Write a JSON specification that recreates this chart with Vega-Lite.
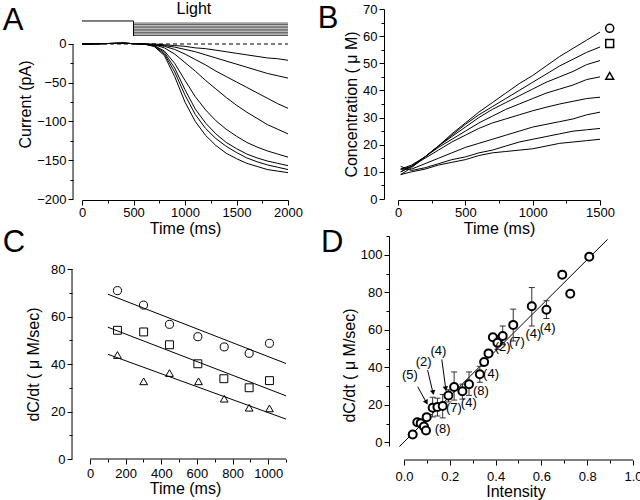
{
  "$schema": "https://vega.github.io/schema/vega-lite/v6.json",
  "padding": {"left": 2, "top": 0, "right": 0, "bottom": 2},
  "background": "white",
  "config": {
    "font": "Liberation Sans",
    "view": {"stroke": null},
    "axis": {"labelFontSize": 13, "titleFontSize": 16, "titleFontWeight": "normal", "labelColor": "black", "titleColor": "black", "domainColor": "black", "tickColor": "black", "grid": false, "labelFlush": false, "labelOverlap": false, "tickSize": 5, "labelPadding": 2, "titlePadding": 4, "labelFont": "Liberation Sans", "titleFont": "Liberation Sans"},
    "text": {"font": "Liberation Sans", "color": "black"}
  },
  "datasets": {
    "a_traces": [
      {"trace":"T1","x":0,"y":0},{"trace":"T1","x":200,"y":0.5},{"trace":"T1","x":400,"y":1},{"trace":"T1","x":500,"y":0.5},{"trace":"T1","x":600,"y":0},{"trace":"T1","x":700,"y":0},{"trace":"T1","x":800,"y":-1},{"trace":"T1","x":900,"y":-2},{"trace":"T1","x":1000,"y":-3},{"trace":"T1","x":1100,"y":-5},{"trace":"T1","x":1200,"y":-6},{"trace":"T1","x":1300,"y":-8},{"trace":"T1","x":1400,"y":-10},{"trace":"T1","x":1500,"y":-12},{"trace":"T1","x":1600,"y":-14},{"trace":"T1","x":1700,"y":-16},{"trace":"T1","x":1800,"y":-18},{"trace":"T1","x":1900,"y":-19},{"trace":"T1","x":2000,"y":-21},
      {"trace":"T2","x":0,"y":0},{"trace":"T2","x":200,"y":0.5},{"trace":"T2","x":400,"y":1},{"trace":"T2","x":500,"y":0.5},{"trace":"T2","x":600,"y":0},{"trace":"T2","x":700,"y":-1},{"trace":"T2","x":800,"y":-2},{"trace":"T2","x":900,"y":-4},{"trace":"T2","x":1000,"y":-7},{"trace":"T2","x":1100,"y":-10},{"trace":"T2","x":1200,"y":-14},{"trace":"T2","x":1300,"y":-18},{"trace":"T2","x":1400,"y":-22},{"trace":"T2","x":1500,"y":-26},{"trace":"T2","x":1600,"y":-30},{"trace":"T2","x":1700,"y":-34},{"trace":"T2","x":1800,"y":-38},{"trace":"T2","x":1900,"y":-41},{"trace":"T2","x":2000,"y":-44},
      {"trace":"T3","x":0,"y":0},{"trace":"T3","x":200,"y":0.5},{"trace":"T3","x":400,"y":1},{"trace":"T3","x":500,"y":0.5},{"trace":"T3","x":600,"y":0},{"trace":"T3","x":700,"y":-1},{"trace":"T3","x":800,"y":-3},{"trace":"T3","x":900,"y":-7},{"trace":"T3","x":1000,"y":-13},{"trace":"T3","x":1100,"y":-20},{"trace":"T3","x":1200,"y":-27},{"trace":"T3","x":1300,"y":-35},{"trace":"T3","x":1400,"y":-42},{"trace":"T3","x":1500,"y":-49},{"trace":"T3","x":1600,"y":-56},{"trace":"T3","x":1700,"y":-63},{"trace":"T3","x":1800,"y":-70},{"trace":"T3","x":1900,"y":-77},{"trace":"T3","x":2000,"y":-83},
      {"trace":"T4","x":0,"y":0},{"trace":"T4","x":200,"y":0.5},{"trace":"T4","x":400,"y":1},{"trace":"T4","x":500,"y":0.5},{"trace":"T4","x":600,"y":0},{"trace":"T4","x":700,"y":-1},{"trace":"T4","x":800,"y":-5},{"trace":"T4","x":900,"y":-13},{"trace":"T4","x":1000,"y":-24},{"trace":"T4","x":1100,"y":-35},{"trace":"T4","x":1200,"y":-47},{"trace":"T4","x":1300,"y":-58},{"trace":"T4","x":1400,"y":-69},{"trace":"T4","x":1500,"y":-79},{"trace":"T4","x":1600,"y":-88},{"trace":"T4","x":1700,"y":-96},{"trace":"T4","x":1800,"y":-104},{"trace":"T4","x":1900,"y":-110},{"trace":"T4","x":2000,"y":-116},
      {"trace":"T5","x":0,"y":0},{"trace":"T5","x":200,"y":0.5},{"trace":"T5","x":400,"y":1},{"trace":"T5","x":500,"y":0.5},{"trace":"T5","x":600,"y":0},{"trace":"T5","x":700,"y":-2},{"trace":"T5","x":800,"y":-9},{"trace":"T5","x":900,"y":-25},{"trace":"T5","x":1000,"y":-47},{"trace":"T5","x":1100,"y":-68},{"trace":"T5","x":1200,"y":-85},{"trace":"T5","x":1300,"y":-99},{"trace":"T5","x":1400,"y":-110},{"trace":"T5","x":1500,"y":-119},{"trace":"T5","x":1600,"y":-127},{"trace":"T5","x":1700,"y":-133},{"trace":"T5","x":1800,"y":-138},{"trace":"T5","x":1900,"y":-142},{"trace":"T5","x":2000,"y":-146},
      {"trace":"T6","x":0,"y":0},{"trace":"T6","x":200,"y":0.5},{"trace":"T6","x":400,"y":1},{"trace":"T6","x":500,"y":0.5},{"trace":"T6","x":600,"y":0},{"trace":"T6","x":700,"y":-2},{"trace":"T6","x":800,"y":-11},{"trace":"T6","x":900,"y":-31},{"trace":"T6","x":1000,"y":-59},{"trace":"T6","x":1100,"y":-84},{"trace":"T6","x":1200,"y":-102},{"trace":"T6","x":1300,"y":-116},{"trace":"T6","x":1400,"y":-127},{"trace":"T6","x":1500,"y":-135},{"trace":"T6","x":1600,"y":-142},{"trace":"T6","x":1700,"y":-147},{"trace":"T6","x":1800,"y":-151},{"trace":"T6","x":1900,"y":-154},{"trace":"T6","x":2000,"y":-157},
      {"trace":"T7","x":0,"y":0},{"trace":"T7","x":200,"y":0.5},{"trace":"T7","x":400,"y":1},{"trace":"T7","x":500,"y":0.5},{"trace":"T7","x":600,"y":0},{"trace":"T7","x":700,"y":-3},{"trace":"T7","x":800,"y":-13},{"trace":"T7","x":900,"y":-36},{"trace":"T7","x":1000,"y":-66},{"trace":"T7","x":1100,"y":-91},{"trace":"T7","x":1200,"y":-109},{"trace":"T7","x":1300,"y":-122},{"trace":"T7","x":1400,"y":-132},{"trace":"T7","x":1500,"y":-140},{"trace":"T7","x":1600,"y":-147},{"trace":"T7","x":1700,"y":-152},{"trace":"T7","x":1800,"y":-156},{"trace":"T7","x":1900,"y":-159},{"trace":"T7","x":2000,"y":-162},
      {"trace":"T8","x":0,"y":0},{"trace":"T8","x":200,"y":0.5},{"trace":"T8","x":400,"y":1},{"trace":"T8","x":500,"y":0.5},{"trace":"T8","x":600,"y":0},{"trace":"T8","x":700,"y":-3},{"trace":"T8","x":800,"y":-15},{"trace":"T8","x":900,"y":-42},{"trace":"T8","x":1000,"y":-75},{"trace":"T8","x":1100,"y":-100},{"trace":"T8","x":1200,"y":-118},{"trace":"T8","x":1300,"y":-131},{"trace":"T8","x":1400,"y":-141},{"trace":"T8","x":1500,"y":-148},{"trace":"T8","x":1600,"y":-154},{"trace":"T8","x":1700,"y":-158},{"trace":"T8","x":1800,"y":-162},{"trace":"T8","x":1900,"y":-164},{"trace":"T8","x":2000,"y":-166}
    ],
    "a_band": [
      {"x":500,"x2":2000,"y":27},{"x":500,"x2":2000,"y":25},{"x":500,"x2":2000,"y":23},{"x":500,"x2":2000,"y":21},{"x":500,"x2":2000,"y":19},{"x":500,"x2":2000,"y":17},{"x":500,"x2":2000,"y":15},{"x":500,"x2":2000,"y":13},{"x":500,"x2":2000,"y":11}
    ],
    "a_seg": [
      {"x":0,"x2":500,"y":29.7,"y2":29.7},
      {"x":500,"x2":500,"y":29.7,"y2":10.3},
      {"x":-87,"x2":-87,"y":-200,"y2":0}
    ],
    "a_zero": [{"x":0,"x2":2000,"y":0}],
    "b_traces": [
      {"trace":"C1","x":20,"y":9},{"trace":"C1","x":100,"y":11.5},{"trace":"C1","x":200,"y":15.5},{"trace":"C1","x":300,"y":19.5},{"trace":"C1","x":400,"y":24},{"trace":"C1","x":500,"y":28},{"trace":"C1","x":600,"y":32},{"trace":"C1","x":700,"y":35.5},{"trace":"C1","x":800,"y":39},{"trace":"C1","x":900,"y":42.5},{"trace":"C1","x":1000,"y":45.5},{"trace":"C1","x":1100,"y":49},{"trace":"C1","x":1200,"y":52.5},{"trace":"C1","x":1300,"y":55.5},{"trace":"C1","x":1400,"y":58.5},{"trace":"C1","x":1500,"y":61.5},
      {"trace":"C2","x":20,"y":10},{"trace":"C2","x":100,"y":12},{"trace":"C2","x":200,"y":15.5},{"trace":"C2","x":300,"y":19.5},{"trace":"C2","x":400,"y":23.5},{"trace":"C2","x":500,"y":27.5},{"trace":"C2","x":600,"y":31},{"trace":"C2","x":700,"y":34},{"trace":"C2","x":800,"y":37},{"trace":"C2","x":900,"y":40},{"trace":"C2","x":1000,"y":43},{"trace":"C2","x":1100,"y":46},{"trace":"C2","x":1200,"y":49},{"trace":"C2","x":1300,"y":51.5},{"trace":"C2","x":1400,"y":54},{"trace":"C2","x":1500,"y":56},
      {"trace":"C3","x":20,"y":11},{"trace":"C3","x":100,"y":12},{"trace":"C3","x":200,"y":15.5},{"trace":"C3","x":300,"y":19.5},{"trace":"C3","x":400,"y":23},{"trace":"C3","x":500,"y":26.5},{"trace":"C3","x":600,"y":30},{"trace":"C3","x":700,"y":33},{"trace":"C3","x":800,"y":35.5},{"trace":"C3","x":900,"y":38},{"trace":"C3","x":1000,"y":40.5},{"trace":"C3","x":1100,"y":43},{"trace":"C3","x":1200,"y":45},{"trace":"C3","x":1300,"y":47},{"trace":"C3","x":1400,"y":49.5},{"trace":"C3","x":1500,"y":51},
      {"trace":"C4","x":20,"y":11},{"trace":"C4","x":100,"y":12.5},{"trace":"C4","x":200,"y":15.5},{"trace":"C4","x":300,"y":19},{"trace":"C4","x":400,"y":22},{"trace":"C4","x":500,"y":25},{"trace":"C4","x":600,"y":28},{"trace":"C4","x":700,"y":30.5},{"trace":"C4","x":800,"y":33},{"trace":"C4","x":900,"y":35},{"trace":"C4","x":1000,"y":37},{"trace":"C4","x":1100,"y":39},{"trace":"C4","x":1200,"y":40.5},{"trace":"C4","x":1300,"y":42},{"trace":"C4","x":1400,"y":44},{"trace":"C4","x":1500,"y":45},
      {"trace":"C5","x":20,"y":10},{"trace":"C5","x":100,"y":12},{"trace":"C5","x":200,"y":15},{"trace":"C5","x":300,"y":18},{"trace":"C5","x":400,"y":21},{"trace":"C5","x":500,"y":23.5},{"trace":"C5","x":600,"y":26},{"trace":"C5","x":700,"y":28},{"trace":"C5","x":800,"y":29.5},{"trace":"C5","x":900,"y":31},{"trace":"C5","x":1000,"y":32.5},{"trace":"C5","x":1100,"y":33.8},{"trace":"C5","x":1200,"y":35},{"trace":"C5","x":1300,"y":36},{"trace":"C5","x":1400,"y":37},{"trace":"C5","x":1500,"y":37.5},
      {"trace":"C6","x":20,"y":11},{"trace":"C6","x":100,"y":11},{"trace":"C6","x":200,"y":13},{"trace":"C6","x":300,"y":15},{"trace":"C6","x":400,"y":17},{"trace":"C6","x":500,"y":19},{"trace":"C6","x":600,"y":20.5},{"trace":"C6","x":700,"y":22},{"trace":"C6","x":800,"y":23.5},{"trace":"C6","x":900,"y":25},{"trace":"C6","x":1000,"y":26.5},{"trace":"C6","x":1100,"y":27.5},{"trace":"C6","x":1200,"y":28.5},{"trace":"C6","x":1300,"y":29.5},{"trace":"C6","x":1400,"y":31},{"trace":"C6","x":1500,"y":32},
      {"trace":"C7","x":20,"y":12},{"trace":"C7","x":100,"y":10.5},{"trace":"C7","x":200,"y":11.5},{"trace":"C7","x":300,"y":13},{"trace":"C7","x":400,"y":14.5},{"trace":"C7","x":500,"y":15.5},{"trace":"C7","x":600,"y":17},{"trace":"C7","x":700,"y":18},{"trace":"C7","x":800,"y":19.5},{"trace":"C7","x":900,"y":21},{"trace":"C7","x":1000,"y":22},{"trace":"C7","x":1100,"y":23},{"trace":"C7","x":1200,"y":24},{"trace":"C7","x":1300,"y":25},{"trace":"C7","x":1400,"y":25.5},{"trace":"C7","x":1500,"y":26},
      {"trace":"C8","x":20,"y":9},{"trace":"C8","x":100,"y":10},{"trace":"C8","x":200,"y":11},{"trace":"C8","x":300,"y":12.5},{"trace":"C8","x":400,"y":13.5},{"trace":"C8","x":500,"y":14.5},{"trace":"C8","x":600,"y":16},{"trace":"C8","x":700,"y":17},{"trace":"C8","x":800,"y":17.5},{"trace":"C8","x":900,"y":18},{"trace":"C8","x":1000,"y":18.5},{"trace":"C8","x":1100,"y":19.5},{"trace":"C8","x":1200,"y":20.5},{"trace":"C8","x":1300,"y":21},{"trace":"C8","x":1400,"y":21.5},{"trace":"C8","x":1500,"y":22}
    ],
    "b_marks": [
      {"x":1572,"y":62.9,"series":"high"},{"x":1572,"y":57.3,"series":"mid"},{"x":1572,"y":45.4,"series":"low"}
    ],
    "c_pts": [
      {"x":154,"y":70.9,"series":"high"},{"x":300,"y":64.8,"series":"high"},{"x":446,"y":56.7,"series":"high"},{"x":605,"y":51.5,"series":"high"},{"x":753,"y":47.2,"series":"high"},{"x":893,"y":44.5,"series":"high"},{"x":1007,"y":48.7,"series":"high"},
      {"x":154,"y":54.2,"series":"mid"},{"x":301,"y":53.5,"series":"mid"},{"x":446,"y":48.1,"series":"mid"},{"x":605,"y":40.1,"series":"mid"},{"x":751,"y":33.8,"series":"mid"},{"x":893,"y":30,"series":"mid"},{"x":1007,"y":33,"series":"mid"},
      {"x":154,"y":43.8,"series":"low"},{"x":301,"y":32.7,"series":"low"},{"x":446,"y":36.2,"series":"low"},{"x":609,"y":32.7,"series":"low"},{"x":753,"y":25.4,"series":"low"},{"x":893,"y":21.6,"series":"low"},{"x":1007,"y":21.3,"series":"low"}
    ],
    "c_fit": [
      {"x":100,"y":69.4,"x2":1100,"y2":40.2},
      {"x":100,"y":55.5,"x2":1100,"y2":26.6},
      {"x":100,"y":44.1,"x2":1100,"y2":16.8},
      {"x":-101,"y":0,"x2":-101,"y2":80},
      {"x":0,"y":0,"x2":1100,"y2":0}
    ],
    "d_pts": [
      {"x":0.038,"y":4.1},{"x":0.058,"y":10.7},{"x":0.073,"y":10.2},{"x":0.087,"y":8.4},{"x":0.096,"y":6.3},{"x":0.099,"y":13.4},{"x":0.125,"y":18.4},{"x":0.146,"y":18.8},{"x":0.169,"y":19.3},{"x":0.194,"y":24.9},{"x":0.219,"y":29.5},{"x":0.255,"y":27.2},{"x":0.284,"y":30.9},{"x":0.331,"y":36.3},{"x":0.35,"y":42.8},{"x":0.369,"y":47.4},{"x":0.388,"y":56},{"x":0.408,"y":53.1},{"x":0.431,"y":56.7},{"x":0.477,"y":62.6},{"x":0.558,"y":72.5},{"x":0.622,"y":70.7},{"x":0.691,"y":89.4},{"x":0.726,"y":79.2},{"x":0.809,"y":98.9}
    ],
    "d_err": [
      {"x":0.125,"y":13.5,"y2":24},{"x":0.146,"y":14,"y2":23.5},{"x":0.169,"y":13,"y2":25.5},{"x":0.194,"y":21.5,"y2":28},{"x":0.219,"y":22.5,"y2":37.5},{"x":0.255,"y":23,"y2":31},{"x":0.284,"y":25,"y2":37.5},{"x":0.331,"y":32,"y2":40.5},{"x":0.408,"y":49.5,"y2":57},{"x":0.431,"y":52,"y2":62},{"x":0.477,"y":54,"y2":71},{"x":0.558,"y":62,"y2":82.5},{"x":0.622,"y":66,"y2":75.5}
    ],
    "d_fit": [
      {"x":-0.02,"y":-2.3,"x2":0.889,"y2":108.2},
      {"x":0,"y":-9.47,"x2":1,"y2":-9.47}
    ],
    "d_arrows": [
      {"x":0.06,"y":29.6,"x2":0.1,"y2":20.7},
      {"x":0.103,"y":38.5,"x2":0.128,"y2":25.7},
      {"x":0.165,"y":44.2,"x2":0.183,"y2":27.8}
    ],
    "d_heads": [
      {"x":0.098,"y":21.3,"angle":151},
      {"x":0.127,"y":26.5,"angle":167},
      {"x":0.182,"y":28.6,"angle":172}
    ],
    "d_labels": [
      {"x":0.026,"y":35.8,"label":"(5)"},{"x":0.086,"y":42.9,"label":"(2)"},{"x":0.15,"y":48.8,"label":"(4)"},{"x":0.169,"y":7.3,"label":"(8)"},{"x":0.218,"y":18.5,"label":"(7)"},{"x":0.283,"y":21,"label":"(4)"},{"x":0.336,"y":27.4,"label":"(8)"},{"x":0.38,"y":36.4,"label":"(4)"},{"x":0.431,"y":50.6,"label":"(2)"},{"x":0.493,"y":53.6,"label":"(7)"},{"x":0.565,"y":57.8,"label":"(4)"},{"x":0.627,"y":60.8,"label":"(4)"}
    ]
  },
  "columns": 2,
  "align": "none",
  "bounds": "flush",
  "spacing": {"row": 37, "column": 110},
  "concat": [
    {
      "width": 206,
      "height": 190,
      "encoding": {
        "x": {"field": "x", "type": "quantitative", "scale": {"domain": [0, 2000], "nice": false, "zero": false},
          "axis": {"title": "Time (ms)", "offset": 1, "format": "d", "labelPadding": 1, "titlePadding": 1, "values": [0,250,500,750,1000,1250,1500,1750,2000], "labelExpr": "datum.value % 500 === 0 ? datum.label : ''", "tickSize": {"condition": {"test": "datum.value % 500 !== 0", "value": 3}, "value": 5}}},
        "y": {"field": "y", "type": "quantitative", "scale": {"domain": [-200, 45.16], "nice": false, "zero": false},
          "axis": {"title": "Current (pA)", "offset": 9, "domain": false, "titlePadding": 3, "values": [-200,-175,-150,-125,-100,-75,-50,-25,0], "labelExpr": "datum.value % 50 === 0 ? datum.label : ''", "tickSize": {"condition": {"test": "datum.value % 50 !== 0", "value": 3}, "value": 5}}}
      },
      "layer": [
        {"data": {"name": "a_zero"}, "mark": {"type": "rule", "color": "black", "strokeWidth": 1, "strokeDash": [4, 3]}, "encoding": {"x2": {"field": "x2"}}},
        {"data": {"name": "a_band"}, "mark": {"type": "rule", "color": "#555555", "strokeWidth": 1}, "encoding": {"x2": {"field": "x2"}}},
        {"data": {"name": "a_seg"}, "mark": {"type": "rule", "color": "black", "strokeWidth": 1}, "encoding": {"x2": {"field": "x2"}, "y2": {"field": "y2"}}},
        {"data": {"name": "a_traces"}, "mark": {"type": "line", "color": "black", "strokeWidth": 1}, "encoding": {"detail": {"field": "trace"}}},
        {"data": {"values": [{"x": 1087, "y": 45.2, "label": "Light"}]}, "mark": {"type": "text", "fontSize": 16, "baseline": "middle"}, "encoding": {"text": {"field": "label"}}},
        {"data": {"values": [{"x": -670, "y": 18.1, "label": "A"}]}, "mark": {"type": "text", "fontSize": 31, "baseline": "alphabetic"}, "encoding": {"text": {"field": "label"}}}
      ]
    },
    {
      "width": 202,
      "height": 190,
      "encoding": {
        "x": {"field": "x", "type": "quantitative", "scale": {"domain": [0, 1500], "nice": false, "zero": false},
          "axis": {"title": "Time (ms)", "offset": 1, "format": "d", "labelPadding": 1, "titlePadding": 1, "values": [0,250,500,750,1000,1250,1500], "labelExpr": "datum.value % 500 === 0 ? datum.label : ''", "tickSize": {"condition": {"test": "datum.value % 500 !== 0", "value": 3}, "value": 5}}},
        "y": {"field": "y", "type": "quantitative", "scale": {"domain": [0, 70], "nice": false},
          "axis": {"title": "Concentration ( μ M)", "offset": 14, "titlePadding": 3, "values": [0,5,10,15,20,25,30,35,40,45,50,55,60,65,70], "labelExpr": "datum.value % 10 === 0 ? datum.label : ''", "tickSize": {"condition": {"test": "datum.value % 10 !== 0", "value": 3}, "value": 5}}}
      },
      "layer": [
        {"data": {"name": "b_traces"}, "mark": {"type": "line", "color": "black", "strokeWidth": 1}, "encoding": {"detail": {"field": "trace"}}},
        {"data": {"name": "b_marks"}, "mark": {"type": "point", "filled": false, "color": "black", "strokeWidth": 1.5, "opacity": 1}, "encoding": {"shape": {"field": "series", "type": "nominal", "scale": {"domain": ["high", "mid", "low"], "range": ["circle", "square", "triangle-up"]}, "legend": null}, "size": {"field": "series", "type": "nominal", "scale": {"domain": ["high", "mid", "low"], "range": [65, 60, 100]}, "legend": null}}},
        {"data": {"values": [{"x": -520, "y": 63, "label": "B"}]}, "mark": {"type": "text", "fontSize": 31, "baseline": "alphabetic"}, "encoding": {"text": {"field": "label"}}}
      ]
    },
    {
      "width": 206,
      "height": 223,
      "encoding": {
        "x": {"field": "x", "type": "quantitative", "scale": {"domain": [-45, 1111], "nice": false, "zero": false},
          "axis": {"title": "Time (ms)", "domain": false, "format": "d", "labelPadding": 3, "titlePadding": 0, "values": [0,100,200,300,400,500,600,700,800,900,1000,1100], "labelExpr": "datum.value % 200 === 0 ? datum.label : ''", "tickSize": {"condition": {"test": "datum.value % 200 !== 0", "value": 3}, "value": 5}}},
        "y": {"field": "y", "type": "quantitative", "scale": {"domain": [0, 93.9], "nice": false},
          "axis": {"title": "dC/dt ( μ M/sec)", "offset": 10, "domain": false, "titlePadding": 9, "titleY": 128, "values": [0,10,20,30,40,50,60,70,80], "labelExpr": "datum.value % 20 === 0 ? datum.label : ''", "tickSize": {"condition": {"test": "datum.value % 20 !== 0", "value": 3}, "value": 5}}}
      },
      "layer": [
        {"data": {"name": "c_fit"}, "mark": {"type": "rule", "color": "black", "strokeWidth": 1}, "encoding": {"x2": {"field": "x2"}, "y2": {"field": "y2"}}},
        {"data": {"name": "c_pts"}, "mark": {"type": "point", "filled": false, "color": "black", "strokeWidth": 1, "opacity": 1}, "encoding": {"shape": {"field": "series", "type": "nominal", "scale": {"domain": ["high", "mid", "low"], "range": ["circle", "square", "triangle-up"]}, "legend": null}, "size": {"field": "series", "type": "nominal", "scale": {"domain": ["high", "mid", "low"], "range": [75, 65, 120]}, "legend": null}}},
        {"data": {"values": [{"x": -426.5, "y": 87.2, "label": "C"}]}, "mark": {"type": "text", "fontSize": 31, "baseline": "alphabetic"}, "encoding": {"text": {"field": "label"}}}
      ]
    },
    {
      "width": 235,
      "height": 210,
      "encoding": {
        "x": {"field": "x", "type": "quantitative", "scale": {"domain": [-0.0262, 1], "nice": false, "zero": false},
          "axis": {"title": "Intensity", "offset": 14, "domain": false, "format": ".1f", "labelPadding": 5, "titlePadding": 0, "values": [0,0.1,0.2,0.3,0.4,0.5,0.6,0.7,0.8,0.9,1], "labelExpr": "round(datum.value*10) % 2 === 0 ? datum.label : ''", "tickSize": {"condition": {"test": "round(datum.value*10) % 2 !== 0", "value": 3}, "value": 5}}},
        "y": {"field": "y", "type": "quantitative", "scale": {"domain": [-2, 110], "nice": false, "zero": false},
          "axis": {"title": "dC/dt ( μ M/sec)", "offset": 9, "titlePadding": 3, "titleY": 129, "values": [0,10,20,30,40,50,60,70,80,90,100,110], "labelExpr": "datum.value % 20 === 0 ? datum.label : ''", "tickSize": {"condition": {"test": "datum.value % 20 !== 0", "value": 3}, "value": 5}}}
      },
      "layer": [
        {"data": {"name": "d_fit"}, "mark": {"type": "rule", "color": "black", "strokeWidth": 1}, "encoding": {"x2": {"field": "x2"}, "y2": {"field": "y2"}}},
        {"data": {"name": "d_err"}, "mark": {"type": "rule", "color": "#333333", "strokeWidth": 1}, "encoding": {"y2": {"field": "y2"}}},
        {"data": {"name": "d_err"}, "transform": [{"fold": ["y", "y2"], "as": ["k", "y"]}], "mark": {"type": "tick", "orient": "horizontal", "size": 6, "thickness": 1, "color": "#333333", "opacity": 1}, "encoding": {}},
        {"data": {"name": "d_arrows"}, "mark": {"type": "rule", "color": "black", "strokeWidth": 1}, "encoding": {"x2": {"field": "x2"}, "y2": {"field": "y2"}}},
        {"data": {"name": "d_heads"}, "mark": {"type": "point", "shape": "triangle-up", "filled": true, "color": "black", "size": 30, "opacity": 1}, "encoding": {"angle": {"field": "angle", "type": "quantitative", "scale": null}}},
        {"data": {"name": "d_pts"}, "mark": {"type": "point", "filled": true, "fill": "white", "stroke": "black", "strokeWidth": 2, "size": 64, "opacity": 1}},
        {"data": {"name": "d_labels"}, "mark": {"type": "text", "fontSize": 13}, "encoding": {"text": {"field": "label"}}},
        {"data": {"values": [{"x": -0.314, "y": 101.6, "label": "D"}]}, "mark": {"type": "text", "fontSize": 31, "baseline": "alphabetic"}, "encoding": {"text": {"field": "label"}}}
      ]
    }
  ]
}
